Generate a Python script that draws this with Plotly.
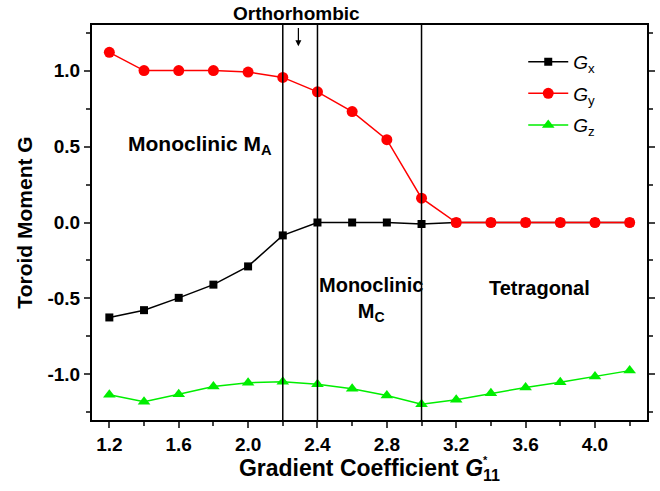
import plotly.graph_objects as go

g11 = [1.2, 1.4, 1.6, 1.8, 2.0, 2.2, 2.4, 2.6, 2.8, 3.0, 3.2, 3.4, 3.6, 3.8, 4.0, 4.2]
gx = [-0.625, -0.577, -0.496, -0.409, -0.289, -0.085, 0.0, 0.0, 0.0, -0.01, 0.0, 0.0, 0.0, 0.0, 0.0, 0.0]
gy = [1.12, 1.0, 1.0, 1.0, 0.99, 0.955, 0.86, 0.73, 0.545, 0.16, 0.0, 0.0, 0.0, 0.0, 0.0, 0.0]
gz = [-1.134, -1.18, -1.13, -1.08, -1.054, -1.049, -1.064, -1.095, -1.139, -1.196, -1.167, -1.124, -1.086, -1.051, -1.014, -0.975]
phase_bounds = [2.2, 2.4, 3.0]
x_ticks = [1.2, 1.6, 2.0, 2.4, 2.8, 3.2, 3.6, 4.0]
x_minor = [1.4, 1.8, 2.2, 2.6, 3.0, 3.4, 3.8, 4.2]
y_ticks = [-1.0, -0.5, 0.0, 0.5, 1.0]
y_minor = [-1.25, -0.75, -0.25, 0.25, 0.75, 1.25]

FONT = "Liberation Sans"

fig = go.Figure()
fig.add_trace(go.Scatter(x=g11, y=gx, mode="lines+markers", name="<i>G</i><sub>x</sub>", legendgroup="a",
                         line=dict(color="black", width=1.5),
                         marker=dict(symbol="square", size=8, color="black")))
fig.add_trace(go.Scatter(x=g11, y=gy, mode="lines+markers", name="<i>G</i><sub>y</sub>", legendgroup="b",
                         line=dict(color="#ff0000", width=1.5),
                         marker=dict(symbol="circle", size=11, color="#ff0000")))
fig.add_trace(go.Scatter(x=g11, y=gz, mode="lines+markers", name="<i>G</i><sub>z</sub>", legendgroup="c",
                         line=dict(color="#00ee00", width=1.5),
                         marker=dict(symbol="triangle-up", size=11, color="#00ee00")))

for xb in phase_bounds:
    fig.add_shape(type="line", xref="x", yref="paper", x0=xb, x1=xb, y0=0, y1=1,
                  line=dict(color="black", width=1.5), layer="above")

def ann(text, x, y, size=20, **kw):
    fig.add_annotation(text=text, x=x, y=y, xref="x", yref="y", showarrow=False,
                       font=dict(family=FONT, size=size, color="black"), **kw)

ann("<b>Monoclinic M<sub>A</sub></b>", 1.72, 0.51, size=21)
ann("<b>Monoclinic</b><br><b>M<sub>C</sub></b>", 2.71, -0.51)
ann("<b>Tetragonal</b>", 3.68, -0.43)
fig.add_annotation(text="<b>Orthorhombic</b>", x=2.28, y=1.0, xref="x", yref="paper",
                   yanchor="bottom", yshift=-1, showarrow=False,
                   font=dict(family=FONT, size=19, color="black"))
fig.add_annotation(x=2.29, y=1.16, ax=2.29, ay=1.29, xref="x", yref="y", axref="x", ayref="y",
                   showarrow=True, arrowhead=2, arrowsize=1, arrowwidth=1.2, arrowcolor="black", text="")
fig.add_annotation(text="<b>*</b>", x=0.709, y=-0.08, xref="paper", yref="paper",
                   xanchor="center", yanchor="top", showarrow=False,
                   font=dict(family=FONT, size=11, color="black"))

fig.update_layout(
    width=660, height=491,
    margin=dict(l=92, r=5, t=25, b=71),
    plot_bgcolor="white", paper_bgcolor="white",
    font=dict(family=FONT, color="black"),
    showlegend=True,
    legend=dict(x=0.777, y=0.955, xanchor="left", yanchor="top", bgcolor="rgba(0,0,0,0)",
                font=dict(family=FONT, size=19), itemwidth=40, tracegroupgap=4),
    xaxis=dict(range=[1.1, 4.3], tickvals=x_ticks,
               ticktext=["<b>%.1f</b>" % v for v in x_ticks],
               ticks="outside", ticklen=6, tickwidth=1.5, showgrid=False, zeroline=False,
               showline=True, linecolor="black", linewidth=2, mirror=True,
               minor=dict(tickvals=x_minor, ticks="outside", ticklen=4, tickwidth=1.5),
               tickfont=dict(family=FONT, size=19),
               title=dict(text="<b>Gradient Coefficient <i>G</i><sub>11</sub></b>", font=dict(family=FONT, size=23), standoff=3)),
    yaxis=dict(range=[-1.3, 1.3], tickvals=y_ticks,
               ticktext=["<b>%.1f</b>" % v for v in y_ticks],
               ticks="outside", ticklen=6, tickwidth=1.5, showgrid=False, zeroline=False,
               showline=True, linecolor="black", linewidth=2, mirror="ticks",
               minor=dict(tickvals=y_minor, ticks="outside", ticklen=4, tickwidth=1.5),
               tickfont=dict(family=FONT, size=19),
               title=dict(text="<b>Toroid Moment G</b>", font=dict(family=FONT, size=21), standoff=9)),
)

fig.write_html("out.html", config={"displayModeBar": False},
               post_script="document.body.style.margin='0';")
